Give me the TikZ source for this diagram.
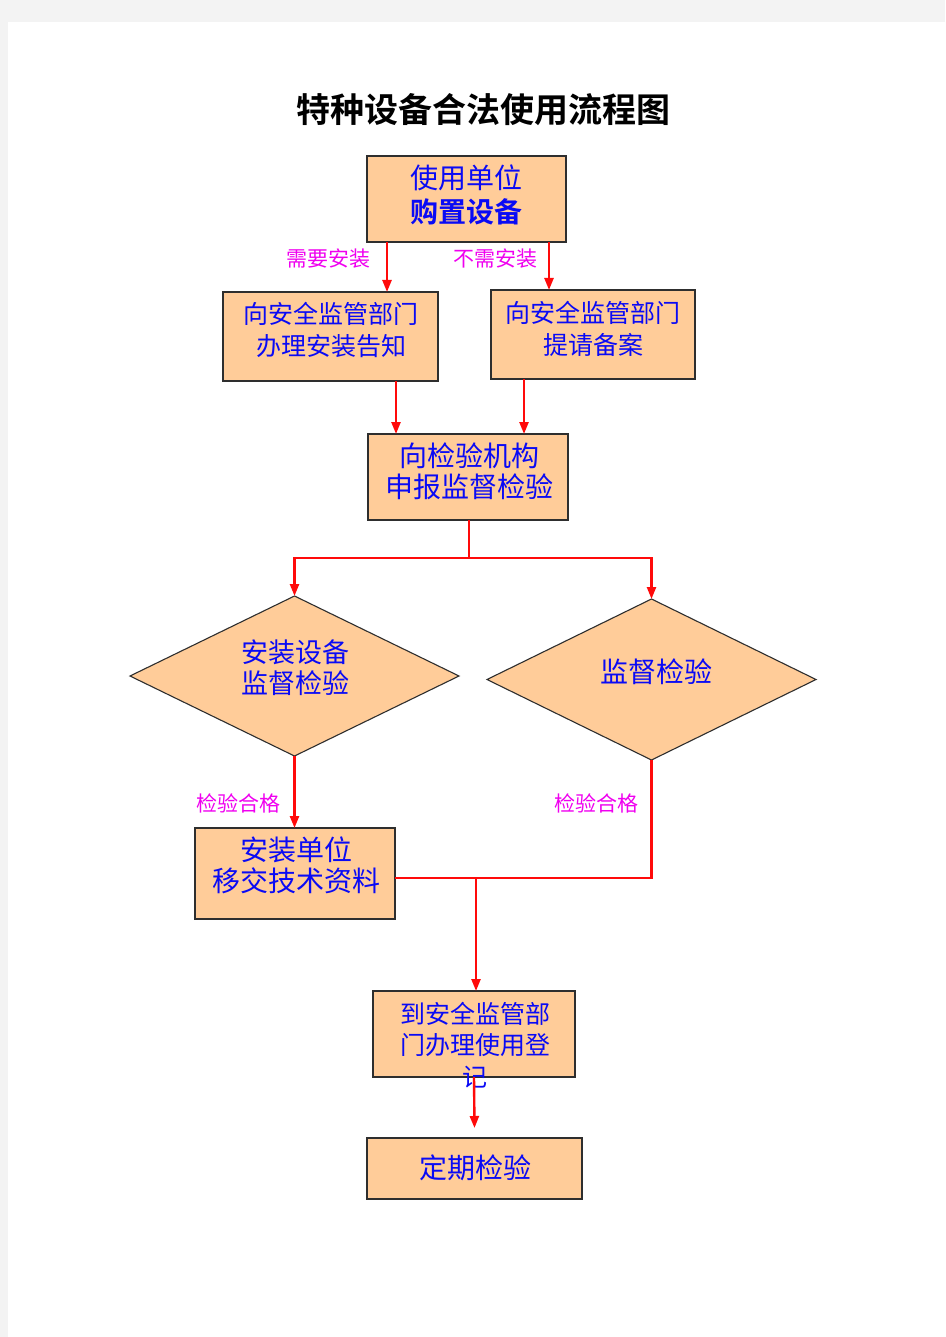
\documentclass[tikz,border=0pt]{standalone}
\usepackage{fontspec}
\newfontfamily\cjk[BoldFont={Noto Sans CJK SC Bold}]{Noto Sans CJK SC}
\usetikzlibrary{shapes.geometric,arrows.meta}
\definecolor{peach}{HTML}{FFCC99}
\definecolor{tblue}{HTML}{0A0AF5}
\definecolor{tmag}{HTML}{F000F0}
\definecolor{lred}{HTML}{FF0A0A}
\definecolor{pagegray}{HTML}{F3F3F3}
\definecolor{edge}{HTML}{2E2E2E}
\begin{document}
\begin{tikzpicture}[x=1pt,y=-1pt,
  box/.style={draw=edge, line width=1.3pt, fill=peach, inner sep=0pt, outer sep=0pt},
  dia/.style={diamond, draw=edge, line width=1.1pt, fill=peach, inner sep=0pt, outer sep=0pt, aspect=2},
  txt/.style={text=tblue, align=center, inner sep=0pt, font=\cjk\fontsize{27}{31}\selectfont},
  lab/.style={text=tmag, inner sep=0pt, font=\cjk\fontsize{21}{24}\selectfont},
  arr/.style={draw=lred, line width=2.4pt, -{Triangle[length=12pt,width=9pt]}},
  wire/.style={draw=lred, line width=2.4pt}]
\useasboundingbox (0,0) rectangle (945,1337);
\fill[pagegray] (0,0) rectangle (945,1337);
\fill[white] (8,22) rectangle (945,1337);

\node[inner sep=0pt, font=\cjk\bfseries\fontsize{34}{38}\selectfont] (title) at (483,110) {特种设备合法使用流程图};

% boxes
\node[box, minimum width=199pt, minimum height=86pt] (b1) at (466.5,199) {};
\node[box, minimum width=215pt, minimum height=89pt] (b2) at (330.5,336.5) {};
\node[box, minimum width=204pt, minimum height=89pt] (b3) at (593,334.5) {};
\node[box, minimum width=200pt, minimum height=86pt] (b4) at (468,477) {};
\node[dia, minimum width=329pt, minimum height=160pt] (dL) at (294.5,676) {};
\node[dia, minimum width=329pt, minimum height=161pt] (dR) at (651.5,679.5) {};
\node[box, minimum width=200pt, minimum height=91pt] (b5) at (295,873.5) {};
\node[box, minimum width=202pt, minimum height=86pt] (b6) at (474,1034) {};
\node[box, minimum width=215pt, minimum height=61pt] (b7) at (474.5,1168.5) {};

% texts
\node[txt, font=\cjk\fontsize{28}{34}\selectfont] (t1) at (466.5,195) {使用单位\\\bfseries 购置设备};
\node[txt, font=\cjk\fontsize{25}{32}\selectfont] (t2) at (331,330) {向安全监管部门\\办理安装告知};
\node[txt, font=\cjk\fontsize{25}{32}\selectfont] (t3) at (593,329) {向安全监管部门\\提请备案};
\node[txt, font=\cjk\fontsize{28}{31}\selectfont] (t4) at (469,471.5) {向检验机构\\申报监督检验};
\node[txt] (t5) at (295,668) {安装设备\\监督检验};
\node[txt, font=\cjk\fontsize{28}{31}\selectfont] (t6) at (656,672) {监督检验};
\node[txt, font=\cjk\fontsize{28}{31}\selectfont] (t7) at (296,865.5) {安装单位\\移交技术资料};
\node[txt, font=\cjk\fontsize{25}{31.5}\selectfont] (t8) at (475,1045) {到安全监管部\\门办理使用登\\记};
\node[txt, font=\cjk\fontsize{28}{31}\selectfont] (t9) at (475,1168) {定期检验};

% labels
\node[lab] (l1) at (328,259) {需要安装};
\node[lab] (l2) at (495,259) {不需安装};
\node[lab] (l3) at (238,803) {检验合格};
\node[lab] (l4) at (596,803) {检验合格};

% x positions of connectors
\coordinate (x1) at (387,0);
\coordinate (x2) at (549,0);
\coordinate (x3) at (396,0);
\coordinate (x4) at (524,0);

% connectors
\draw[arr] (b1.south -| x1) -- (b2.north -| x1);
\draw[arr] (b1.south -| x2) -- (b3.north -| x2);
\draw[arr] (b2.south -| x3) -- (b4.north -| x3);
\draw[arr] (b3.south -| x4) -- (b4.north -| x4);
\coordinate (split) at (469,558);
\draw[wire] (b4.south -| split) -- (split);
\draw[arr] (split) -| (dL.north);
\draw[arr] (split) -| (dR.north);
\draw[arr] (dL.south) -- (b5.north -| dL.south);
\coordinate (join) at (476,878);
\draw[wire] (dR.south) |- (b5.east |- join);
\draw[arr] (join) -- (b6.north -| join);
\coordinate (end7) at (474.5,1128);
\draw[arr] (b6.south) -- (end7);
\end{tikzpicture}
\end{document}
